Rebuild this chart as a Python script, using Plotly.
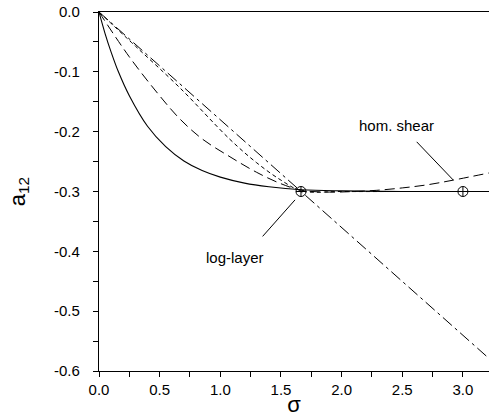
import plotly.graph_objects as go
import numpy as np

# ---- data ----
sigma_solid = [0.0, 0.05, 0.1, 0.16, 0.25, 0.4, 0.55, 0.7, 0.85, 1.0, 1.2, 1.4, 1.67, 2.0, 2.5, 3.0, 3.215]
a12_solid   = [0.0, -0.036, -0.067, -0.100, -0.140, -0.191, -0.225, -0.249, -0.265, -0.276, -0.286, -0.292, -0.297, -0.299, -0.300, -0.300, -0.300]

sigma_long = [0.0, 0.25, 0.5, 0.668, 0.85, 1.08, 1.3, 1.5, 1.67, 1.9, 2.1, 2.29, 2.5, 2.7, 2.92, 3.215]
a12_long   = [0.0, -0.075, -0.140, -0.179, -0.212, -0.242, -0.268, -0.287, -0.298, -0.301, -0.300, -0.298, -0.294, -0.289, -0.281, -0.269]

sigma_short = [0.0, 0.3, 0.668, 1.08, 1.3, 1.5, 1.67, 2.0, 2.5, 3.0, 3.215]
a12_short   = [0.0, -0.057, -0.127, -0.213, -0.252, -0.281, -0.299, -0.300, -0.300, -0.300, -0.300]

sigma_dashdot = [0.0, 1.67, 3.215]
a12_dashdot   = [0.0, -0.300, -0.579]

sigma_points = [1.665, 3.0]
a12_points   = [-0.300, -0.300]

x_tickvals = [0.0, 0.5, 1.0, 1.5, 2.0, 2.5, 3.0]
x_ticktext = ["0.0", "0.5", "1.0", "1.5", "2.0", "2.5", "3.0"]
y_tickvals = [0.0, -0.1, -0.2, -0.3, -0.4, -0.5, -0.6]
y_ticktext = ["0.0", "-0.1", "-0.2", "-0.3", "-0.4", "-0.5", "-0.6"]

labels = ["hom. shear", "log-layer"]
label_pos = [(2.453, -0.189), (1.125, -0.411)]
leader_lines = [((2.619, -0.217), (2.921, -0.281)), ((1.349, -0.375), (1.616, -0.314))]

FONT = "Arial, 'Liberation Sans', sans-serif"

fig = go.Figure()
fig.add_trace(go.Scatter(x=sigma_dashdot, y=a12_dashdot, mode="lines",
                         line=dict(color="black", width=1, dash="12px,4px,3px,4px")))
fig.add_trace(go.Scatter(x=sigma_short, y=a12_short, mode="lines", line_shape="spline",
                         line=dict(color="black", width=1, dash="4px,3px")))
fig.add_trace(go.Scatter(x=sigma_long, y=a12_long, mode="lines", line_shape="spline",
                         line=dict(color="black", width=1, dash="10px,5px")))
fig.add_trace(go.Scatter(x=sigma_solid, y=a12_solid, mode="lines", line_shape="spline",
                         line=dict(color="black", width=1.1)))
fig.add_trace(go.Scatter(x=sigma_points, y=a12_points, mode="markers",
                         marker=dict(symbol="circle-cross-open", size=10, color="black",
                                     line=dict(width=1, color="black"))))

for txt, (tx, ty) in zip(labels, label_pos):
    fig.add_annotation(x=tx, y=ty, text=txt, showarrow=False,
                       font=dict(family=FONT, size=15, color="black"))
for (p0, p1) in leader_lines:
    fig.add_shape(type="line", x0=p0[0], y0=p0[1], x1=p1[0], y1=p1[1],
                  xref="x", yref="y", line=dict(color="black", width=1))

fig.update_layout(
    width=489, height=417,
    margin=dict(l=99, r=0, t=12, b=43),
    paper_bgcolor="white", plot_bgcolor="white",
    showlegend=False,
    font=dict(family=FONT, size=15, color="black"),
)
fig.update_xaxes(range=[0, 3.215], showgrid=False, zeroline=False,
                 showline=True, linecolor="black", linewidth=1.2, mirror=True,
                 ticks="outside", ticklen=5, tickwidth=1, tickcolor="black",
                 tickmode="array", tickvals=x_tickvals, ticktext=x_ticktext,
                 minor=dict(ticks="outside", ticklen=5, tickwidth=1, tickcolor="black",
                            tickvals=list(np.arange(0.25, 3.2, 0.5)), showgrid=False),
                 title=dict(text="σ", font=dict(size=22), standoff=4))
fig.update_yaxes(range=[-0.6, 0], showgrid=False, zeroline=False,
                 showline=True, linecolor="black", linewidth=1.2,
                 ticks="outside", ticklen=5, tickwidth=1, tickcolor="black",
                 tickmode="array", tickvals=y_tickvals, ticktext=y_ticktext,
                 ticklabelstandoff=10,
                 minor=dict(ticks="outside", ticklen=5, tickwidth=1, tickcolor="black",
                            tickvals=list(np.arange(-0.55, 0, 0.1)), showgrid=False),
                 title=dict(text="a<sub>12</sub>", font=dict(size=22), standoff=22))

fig.write_html("out.html")
